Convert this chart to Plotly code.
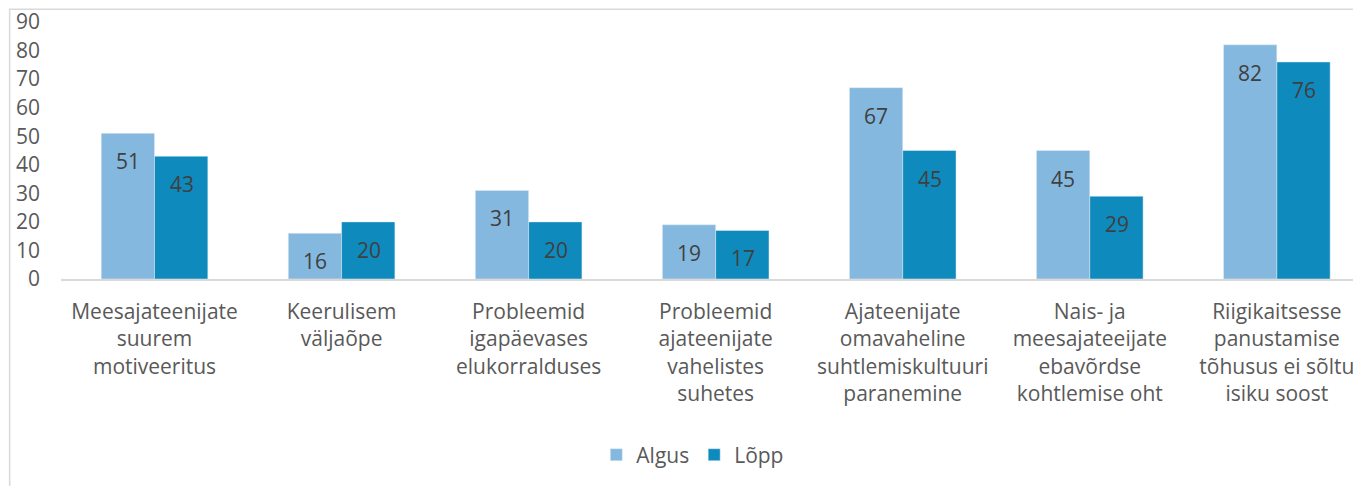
import plotly.graph_objects as go

categories = [
    "Meesajateenijate<br>suurem<br>motiveeritus",
    "Keerulisem<br>väljaõpe",
    "Probleemid<br>igapäevases<br>elukorralduses",
    "Probleemid<br>ajateenijate<br>vahelistes<br>suhetes",
    "Ajateenijate<br>omavaheline<br>suhtlemiskultuuri<br>paranemine",
    "Nais- ja<br>meesajateeijate<br>ebavõrdse<br>kohtlemise oht",
    "Riigikaitsesse<br>panustamise<br>tõhusus ei sõltu<br>isiku soost",
]
algus = [51, 16, 31, 19, 67, 45, 82]
lopp = [43, 20, 20, 17, 45, 29, 76]
y_ticks = [0, 10, 20, 30, 40, 50, 60, 70, 80, 90]

font = "Open Sans, sans-serif"
fs = 21

fig = go.Figure()
fig.add_trace(go.Bar(x=categories, y=algus, name="Algus", marker_color="#85B8DF"))
fig.add_trace(go.Bar(x=categories, y=lopp, name="Lõpp", marker_color="#0E8ABD"))

# data labels just under the bar tops
for vals, shift in ((algus, -27), (lopp, 27)):
    for c, v in zip(categories, vals):
        fig.add_annotation(x=c, y=v, text=str(v), showarrow=False, xshift=shift, yshift=-28,
                           font=dict(size=fs, color="#404040", family=font))

# chart area border
fig.add_shape(type="rect", xref="paper", yref="paper", x0=-0.0395, x1=1.05, y0=-1.1, y1=1.05,
              line=dict(color="#D9D9D9", width=1.5), layer="below")

# page body has an 8px margin, so the figure is offset by that much
fig.update_layout(
    width=1361, height=486,
    margin=dict(l=53, r=8, t=14, b=215),
    plot_bgcolor="white", paper_bgcolor="white",
    barmode="group", bargap=0.43, bargroupgap=0,
    font=dict(family=font, size=fs, color="#595959"),
    legend=dict(orientation="h", x=0.486, xanchor="center", y=-0.685, yanchor="middle",
                font=dict(size=fs, color="#595959"), itemwidth=30, traceorder="normal"),
)
fig.update_xaxes(range=[-0.5, 6.45], showline=True, linecolor="#D9D9D9", linewidth=1.5,
                 ticks="", tickfont=dict(size=fs, color="#595959"), tickangle=0,
                 ticklabelstandoff=13, automargin=False, ticklabeloverflow="allow")
fig.update_yaxes(range=[0, 90], tickvals=y_ticks, showgrid=False, zeroline=False,
                 tickfont=dict(size=fs, color="#595959"), ticklabelstandoff=20,
                 automargin=False, ticklabeloverflow="allow")

fig.write_html("out.html")
